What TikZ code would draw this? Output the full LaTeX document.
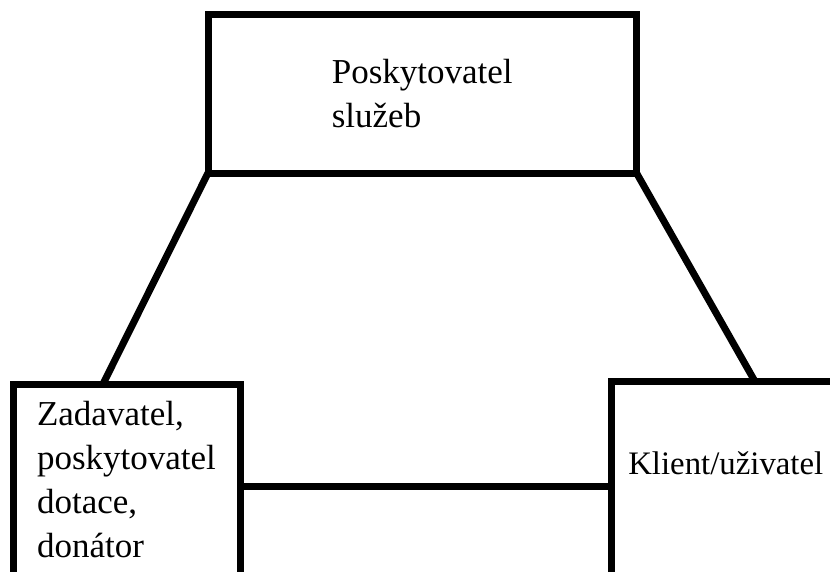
\documentclass[tikz,border=0pt]{standalone}
\usepackage{fontspec}
\setmainfont{Liberation Serif}
\usepackage{tikz}

\tikzset{
  box/.style={draw, line width=5.25pt, rectangle, inner sep=0pt, outer sep=0pt, align=left,
    font=\fontsize{26.25}{33}\selectfont},
  link/.style={line width=5.25pt}
}

\begin{document}
\begin{tikzpicture}[x=0.75pt,y=0.75pt,yscale=-1,xscale=1]
\useasboundingbox (0,0) rectangle (830,571);

%Shape: Rectangle [id:top]
\node [box, minimum width=321.375pt, minimum height=118.875pt] (top) at (422.25,93.75) {Poskytovatel\\služeb};
%Shape: Rectangle [id:left]
\node [box, minimum width=170.25pt, minimum height=144pt] (left) at (126.5,480) {Zadavatel,\\poskytovatel\\dotace,\\donátor};
%Shape: Rectangle [id:right]
\node [box, minimum width=171.375pt, minimum height=147.75pt, text depth=26pt, font=\fontsize{24.6}{31}\selectfont] (right) at (725.75,480) {Klient/uživatel};

\coordinate (lefttop) at (103,384);
\coordinate (righttop) at (755,381.5);

%Straight Lines
\draw [link] (top.south west) -- (lefttop) ;
%Straight Lines
\draw [link] (top.south east) -- (righttop) ;
%Straight Lines
\draw [link] ([yshift=4.5pt]left.east) -- ([yshift=4.5pt]right.west) ;

\end{tikzpicture}
\end{document}
